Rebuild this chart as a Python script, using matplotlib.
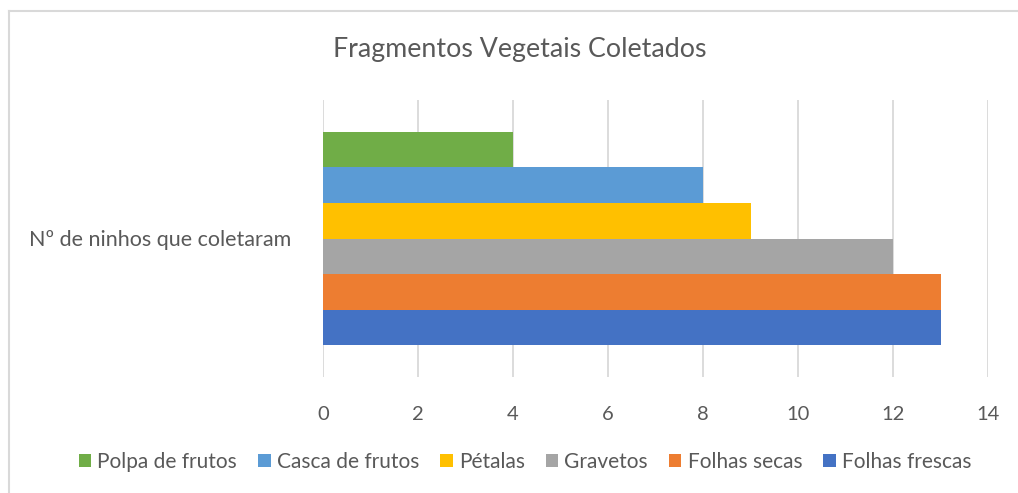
import matplotlib
matplotlib.use("Agg")
import matplotlib.pyplot as plt
from matplotlib.lines import Line2D

plt.rcParams['font.family'] = ['Lato', 'DejaVu Sans']

categoria = "Nº de ninhos que coletaram"
series = ["Folhas frescas", "Folhas secas", "Gravetos", "Pétalas", "Casca de frutos", "Polpa de frutos"]
valores = [13, 13, 12, 9, 8, 4]
cores = ["#4472C4", "#ED7D31", "#A5A5A5", "#FFC000", "#5B9BD5", "#70AD47"]
xticks = [0, 2, 4, 6, 8, 10, 12, 14]

W, H = 1018, 493
fig = plt.figure(figsize=(W / 100, H / 100), dpi=100)
ax = fig.add_axes([323 / W, 1 - 377 / H, (988 - 323) / W, (377 - 100) / H])

# one category, six bars stacked top to bottom in reverse legend order
pos = list(range(len(series)))
for p, nome, v, c in zip(pos, series, valores, cores):
    ax.barh(p, v, height=1.0, color=c, label=nome, zorder=3)

ax.set_xlim(0, 14)
ax.set_ylim(-1.4, 6.4)
ax.set_xticks(xticks)
ax.set_xticklabels([str(t) for t in xticks])
ax.set_yticks([2.5])
ax.set_yticklabels([categoria])
ax.grid(axis='x', color='#D9D9D9', linewidth=1.3, zorder=0)
for s in ax.spines.values():
    s.set_visible(False)
ax.tick_params(axis='x', length=0, pad=21, labelsize=14.5, labelcolor='#595959')
ax.tick_params(axis='y', length=0, pad=23, labelsize=15.5, labelcolor='#595959')

fig.text(520 / W, 1 - 50 / H, "Fragmentos Vegetais Coletados", ha='center', va='center',
         fontsize=19.3, color='#595959')

# legend in Excel order
handles, labels = ax.get_legend_handles_labels()
handles, labels = handles[::-1], labels[::-1]
leg = fig.legend(handles, labels, loc='center', bbox_to_anchor=(525 / W, 1 - 462 / H), ncol=6,
                 frameon=False, fontsize=15, handlelength=0.6, handleheight=0.6,
                 handletextpad=0.3, columnspacing=1.0, labelcolor='#595959')

# chart border (only top and left show in the crop)
fig.add_artist(Line2D([9 / W, 1], [1 - 11 / H, 1 - 11 / H], color='#D9D9D9', linewidth=1.5))
fig.add_artist(Line2D([9 / W, 9 / W], [0, 1 - 11 / H], color='#D9D9D9', linewidth=1.5))

fig.savefig("out.png", dpi=100)
